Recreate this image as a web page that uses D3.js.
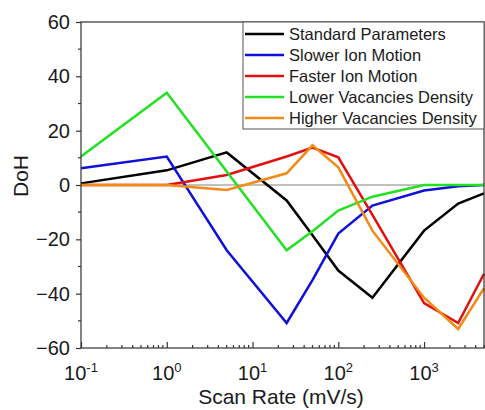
<!DOCTYPE html>
<html><head><meta charset="utf-8">
<script src="https://cdn.jsdelivr.net/npm/d3@7"></script>
<style>
body{margin:0;background:#fff;}
text{font-family:"Liberation Sans",Arial,sans-serif;fill:#1a1a1a;}
</style></head>
<body><svg id="c" width="485" height="410"></svg>
<script>
const scanRates = [0.1, 1, 5, 25, 50, 100, 250, 1000, 2500, 5000];
const seriesNames = ["Standard Parameters","Slower Ion Motion","Faster Ion Motion","Lower Vacancies Density","Higher Vacancies Density"];
const standard = [0.6, 5.4, 12, -5.7, -18.5, -31.5, -41.5, -16.8, -6.8, -3.1];
const slower   = [6.2, 10.5, -24, -50.8, -35, -17.9, -7.6, -2, -0.5, 0];
const faster   = [0, 0, 3.7, 10.5, 13.8, 10.2, -11, -43.5, -50.8, -32.7];
const lowerVac = [10.5, 34, 5, -24, -17, -9.4, -4.3, 0, 0, 0];
const higherVac= [0, 0, -1.8, 4.3, 14.6, 6.5, -16.8, -41.5, -53, -38];
const yTicks = [-60, -40, -20, 0, 20, 40, 60];
const xTicks = [0.1, 1, 10, 100, 1000];
const xTickExp = ["-1","0","1","2","3"];
const colors = ["#000000","#1010d8","#e01010","#22e022","#f28a16"];
const values = [standard, slower, faster, lowerVac, higherVac];

const svg = d3.select("#c");
const L=81, R=484, T=22, B=348;
const x = d3.scaleLog().domain([0.1, 5000]).range([L, R]);
const y = d3.scaleLinear().domain([-60, 60]).range([B, T]);

// zero line
svg.append("line").attr("x1",L).attr("x2",R).attr("y1",y(0)).attr("y2",y(0))
  .attr("stroke","#808080").attr("stroke-width",1);

// lines
const line = d3.line().x(d=>x(d[0])).y(d=>y(d[1]));
values.forEach((vals,i)=>{
  svg.append("path").datum(scanRates.map((s,j)=>[s,vals[j]]))
    .attr("d",line).attr("fill","none").attr("stroke",colors[i])
    .attr("stroke-width",2.5).attr("stroke-linejoin","miter");
});

// frame
svg.append("rect").attr("x",L).attr("y",T).attr("width",R-L).attr("height",B-T)
  .attr("fill","none").attr("stroke","#333").attr("stroke-width",1.2);

// y axis
const yAx = svg.append("g").attr("transform",`translate(${L},0)`)
  .call(d3.axisLeft(y).tickValues(yTicks).tickSize(5).tickPadding(6));
yAx.select(".domain").remove();
yAx.selectAll("line").attr("stroke","#333").attr("stroke-width",1.2);
yAx.selectAll("text").attr("font-size","20px").attr("fill","#1a1a1a")
  .style("font-family",'"Liberation Sans",Arial,sans-serif');
const yMinor = d3.range(-50, 60, 20);
svg.append("g").selectAll("line").data(yMinor).join("line")
  .attr("x1",L-3).attr("x2",L).attr("y1",d=>y(d)).attr("y2",d=>y(d))
  .attr("stroke","#333").attr("stroke-width",1.2);

// x axis ticks (inward)
const xAx = svg.append("g").attr("transform",`translate(0,${B})`)
  .call(d3.axisBottom(x).tickValues(xTicks).tickSize(-6).tickFormat(""));
xAx.select(".domain").remove();
xAx.selectAll("line").attr("stroke","#333").attr("stroke-width",1.2);
const xMinor = [];
[0.1,1,10,100,1000].forEach(d=>{for(let k=2;k<=9;k++){const v=d*k; if(v<=5000) xMinor.push(v);}});
svg.append("g").selectAll("line").data(xMinor).join("line")
  .attr("x1",d=>x(d)).attr("x2",d=>x(d)).attr("y1",B).attr("y2",B-3)
  .attr("stroke","#333").attr("stroke-width",1.2);
// x tick labels
const xl = svg.append("g").selectAll("text").data(xTicks).join("text")
  .attr("x",d=>x(d)).attr("y",380).attr("text-anchor","middle").attr("font-size","20px");
xl.append("tspan").text("10");
xl.append("tspan").attr("dy",-8).attr("font-size","13px").text((d,i)=>xTickExp[i]);

// axis titles
svg.append("text").attr("x",281).attr("y",404).attr("text-anchor","middle")
  .attr("font-size","21px").text("Scan Rate (mV/s)");
svg.append("text").attr("transform","translate(28,176) rotate(-90)")
  .attr("text-anchor","middle").attr("font-size","21px").text("DoH");

// legend
const lg = svg.append("g");
lg.append("rect").attr("x",243).attr("y",T).attr("width",R-243).attr("height",107)
  .attr("fill","#fff").attr("stroke","#555").attr("stroke-width",1);
seriesNames.forEach((n,i)=>{
  const yy = 34 + i*21;
  lg.append("line").attr("x1",245).attr("x2",284).attr("y1",yy).attr("y2",yy)
    .attr("stroke",colors[i]).attr("stroke-width",2.5);
  lg.append("text").attr("x",289).attr("y",yy+6).attr("font-size","16.5px").text(n);
});
</script></body></html>
